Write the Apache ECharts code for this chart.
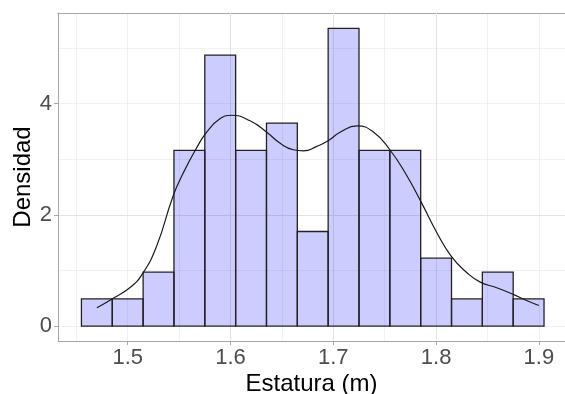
<!DOCTYPE html>
<html>
<head>
<meta charset="utf-8">
<script src="https://cdn.jsdelivr.net/npm/echarts@6/dist/echarts.min.js"></script>
<style>
html,body{margin:0;padding:0;background:#fff;}
#main{width:565px;height:394px;}
</style>
</head>
<body>
<div id="main"></div>
<script>
// histograma: inicio de cada clase (ancho 0.03) y densidad
var binStart = [1.455, 1.485, 1.515, 1.545, 1.575, 1.605, 1.635, 1.665, 1.695, 1.725, 1.755, 1.785, 1.815, 1.845, 1.875];
var binDens = [0.49, 0.49, 0.97, 3.16, 4.87, 3.16, 3.65, 1.70, 5.35, 3.16, 3.16, 1.22, 0.49, 0.97, 0.49];
var binWidth = 0.03;
// curva de densidad
var densX = [1.470, 1.484, 1.502, 1.514, 1.528, 1.544, 1.554, 1.566, 1.577, 1.590, 1.601, 1.619, 1.635, 1.648, 1.661, 1.671, 1.684, 1.695, 1.707, 1.723, 1.739, 1.755, 1.771, 1.786, 1.801, 1.815, 1.830, 1.843, 1.859, 1.875, 1.888, 1.900];
var densY = [0.33, 0.48, 0.69, 0.93, 1.43, 2.33, 2.75, 3.17, 3.49, 3.73, 3.79, 3.69, 3.49, 3.29, 3.17, 3.15, 3.23, 3.33, 3.49, 3.60, 3.49, 3.17, 2.72, 2.21, 1.67, 1.25, 0.96, 0.79, 0.69, 0.57, 0.46, 0.37];
var xTicks = [1.5, 1.6, 1.7, 1.8, 1.9];
var yTicks = [0, 2, 4];

var xMin = 1.4322, xMax = 1.9254;
var yMin = -0.268, yMax = 5.628;

var myChart = echarts.init(document.getElementById('main'));

var bars = [];
for (var i = 0; i < binStart.length; i++) {
	bars.push([binStart[i], binStart[i] + binWidth, binDens[i]]);
}
var curve = [];
for (var j = 0; j < densX.length; j++) {
	curve.push([densX[j], densY[j]]);
}

var gridCol = '#e3e3e3';
var borderCol = '#a6a6a6';
var option = {
	animation: false,
	textStyle: {fontFamily: 'Liberation Sans'},
	grid: {left: 58, right: 0, top: 13, bottom: 53, outerBoundsMode: 'none', containLabel: false},
	xAxis: [{
		type: 'value', min: xMin, max: xMax, splitNumber: 5, z: 2,
		name: 'Estatura (m)', nameLocation: 'middle', nameGap: 31, nameMoveOverlap: false,
		nameTextStyle: {fontSize: 24, color: '#000', fontFamily: 'Liberation Sans'},
		axisLine: {show: true, onZero: false, lineStyle: {color: borderCol, width: 1}},
		axisTick: {show: true, length: 4, lineStyle: {color: borderCol}, customValues: xTicks},
		axisLabel: {fontSize: 22, color: '#4d4d4d', margin: 6, customValues: xTicks,
			formatter: function (v) { return v.toFixed(1); }},
		splitLine: {show: true, showMinLine: false, showMaxLine: false, lineStyle: {color: gridCol, width: 1}}
	}, {
		type: 'value', position: 'top', min: xMin, max: xMax, splitNumber: 10, z: 1,
		axisLine: {show: true, onZero: false, lineStyle: {color: borderCol, width: 1}},
		axisTick: {show: false}, axisLabel: {show: false},
		splitLine: {show: true, showMinLine: false, showMaxLine: false, lineStyle: {color: gridCol, width: 0.5}}
	}],
	yAxis: [{
		type: 'value', min: yMin, max: yMax, splitNumber: 3, z: 2,
		name: 'Densidad', nameLocation: 'middle', nameGap: 23, nameMoveOverlap: false,
		nameTextStyle: {fontSize: 24, color: '#000', fontFamily: 'Liberation Sans'},
		axisLine: {show: true, onZero: false, lineStyle: {color: borderCol, width: 1}},
		axisTick: {show: true, length: 4, lineStyle: {color: borderCol}, customValues: yTicks},
		axisLabel: {fontSize: 22, color: '#4d4d4d', margin: 6, customValues: yTicks},
		splitLine: {show: true, showMinLine: false, showMaxLine: false, lineStyle: {color: gridCol, width: 1}}
	}, {
		type: 'value', min: yMin, max: yMax, splitNumber: 6, z: 1,
		axisLine: {show: false}, axisTick: {show: false}, axisLabel: {show: false},
		splitLine: {show: true, showMinLine: false, showMaxLine: false, lineStyle: {color: gridCol, width: 0.5}}
	}],
	series: [{
		type: 'custom',
		xAxisIndex: 0, yAxisIndex: 0,
		renderItem: function (params, api) {
			var p0 = api.coord([api.value(0), 0]);
			var p1 = api.coord([api.value(1), api.value(2)]);
			return {
				type: 'rect',
				shape: {x: p0[0], y: p1[1], width: p1[0] - p0[0], height: p0[1] - p1[1]},
				style: {fill: 'rgba(0,0,255,0.2)', stroke: '#222', lineWidth: 1.3}
			};
		},
		encode: {x: [0, 1], y: 2},
		data: bars,
		z: 3
	}, {
		type: 'line',
		xAxisIndex: 0, yAxisIndex: 0,
		data: curve,
		smooth: true,
		showSymbol: false,
		lineStyle: {color: '#1a1a1a', width: 1.2},
		z: 4
	}]
};
myChart.setOption(option);
</script>
</body>
</html>
